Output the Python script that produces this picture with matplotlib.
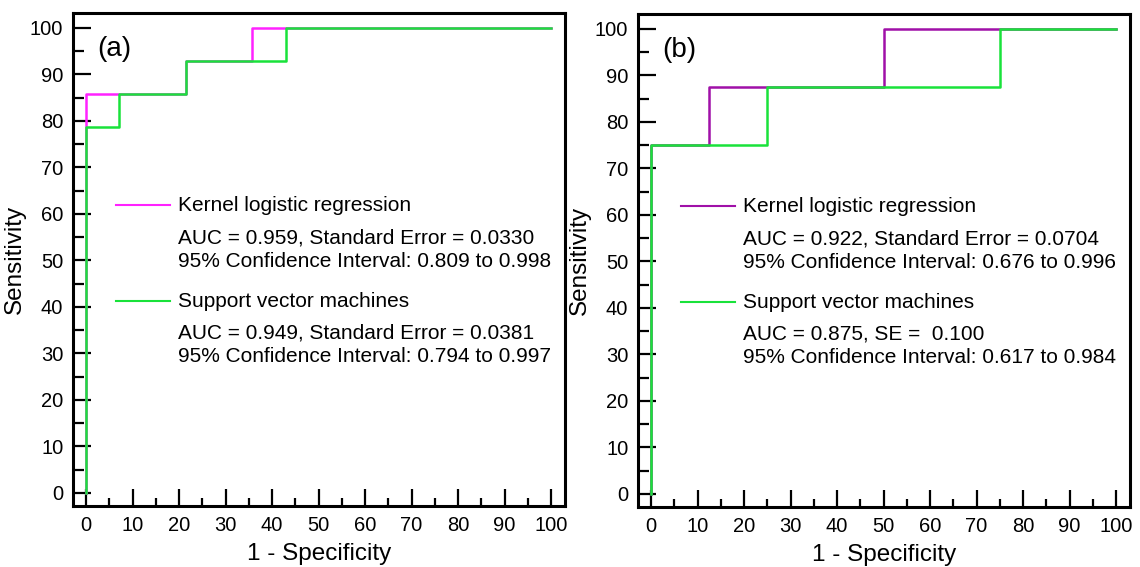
import matplotlib.pyplot as plt
from matplotlib.ticker import MultipleLocator

plt.rcParams["font.family"] = ["Liberation Sans", "DejaVu Sans"]

# panel (a) ROC steps, (1 - specificity, sensitivity) in %
a_klr_fpr = [0, 0, 21.4, 21.4, 35.7, 35.7, 100]
a_klr_tpr = [0, 85.7, 85.7, 92.9, 92.9, 100, 100]
a_svm_fpr = [0, 0, 7.1, 7.1, 21.4, 21.4, 42.9, 42.9, 100]
a_svm_tpr = [0, 78.6, 78.6, 85.7, 85.7, 92.9, 92.9, 100, 100]

# panel (b)
b_klr_fpr = [0, 0, 12.5, 12.5, 50, 50, 100]
b_klr_tpr = [0, 75, 75, 87.5, 87.5, 100, 100]
b_svm_fpr = [0, 0, 25, 25, 75, 75, 100]
b_svm_tpr = [0, 75, 75, 87.5, 87.5, 100, 100]

a_texts = [
    "Kernel logistic regression",
    "AUC = 0.959, Standard Error = 0.0330",
    "95% Confidence Interval: 0.809 to 0.998",
    "Support vector machines",
    "AUC = 0.949, Standard Error = 0.0381",
    "95% Confidence Interval: 0.794 to 0.997",
]
b_texts = [
    "Kernel logistic regression",
    "AUC = 0.922, Standard Error = 0.0704",
    "95% Confidence Interval: 0.676 to 0.996",
    "Support vector machines",
    "AUC = 0.875, SE =  0.100",
    "95% Confidence Interval: 0.617 to 0.984",
]

GREEN = "#19e23a"


def draw_panel(ax, klr, svm, klr_color, texts, tag):
    ax.plot(klr[0], klr[1], color=klr_color, lw=1.8, zorder=2)
    ax.plot(svm[0], svm[1], color=GREEN, lw=1.8, zorder=3)

    ax.set_xlim(-2.8, 103)
    ax.set_ylim(-2.8, 103.2)
    ax.xaxis.set_major_locator(MultipleLocator(10))
    ax.yaxis.set_major_locator(MultipleLocator(10))
    ax.xaxis.set_minor_locator(MultipleLocator(5))
    ax.yaxis.set_minor_locator(MultipleLocator(5))
    ax.tick_params(which="major", direction="in", length=12, width=1.6,
                   labelsize=14.5, pad=7)
    ax.tick_params(which="minor", direction="in", length=6, width=1.6)
    ax.tick_params(axis="y", which="major", length=13)
    ax.tick_params(axis="y", which="minor", length=8)
    for spine in ax.spines.values():
        spine.set_linewidth(2.2)

    ax.set_xlabel("1 - Specificity", fontsize=17.5, labelpad=6)
    ax.set_ylabel("Sensitivity", fontsize=17.5, labelpad=3)
    ax.text(2.5, 95.5, tag, fontsize=20, va="center", ha="left")

    # legend block
    ax.plot([6.5, 18], [62, 62], color=klr_color, lw=1.5,
            clip_on=False)
    ax.plot([6.5, 18], [41.2, 41.2], color=GREEN, lw=1.5,
            clip_on=False)
    ys = [61.8, 54.8, 49.7, 41.2, 34.3, 29.3]
    for y, s in zip(ys, texts):
        ax.text(19.8, y, s, fontsize=15, va="center", ha="left")


fig = plt.figure(figsize=(11.4, 5.67), dpi=100)
ax_a = fig.add_axes([73 / 1140, 1 - 506 / 567, 492 / 1140, 493 / 567])
ax_b = fig.add_axes([638 / 1140, 1 - 507 / 567, 492 / 1140, 493 / 567])

draw_panel(ax_a, (a_klr_fpr, a_klr_tpr), (a_svm_fpr, a_svm_tpr),
           "#ff22ff", a_texts, "(a)")
draw_panel(ax_b, (b_klr_fpr, b_klr_tpr), (b_svm_fpr, b_svm_tpr),
           "#a010a8", b_texts, "(b)")

fig.savefig("out.png", dpi=100)
